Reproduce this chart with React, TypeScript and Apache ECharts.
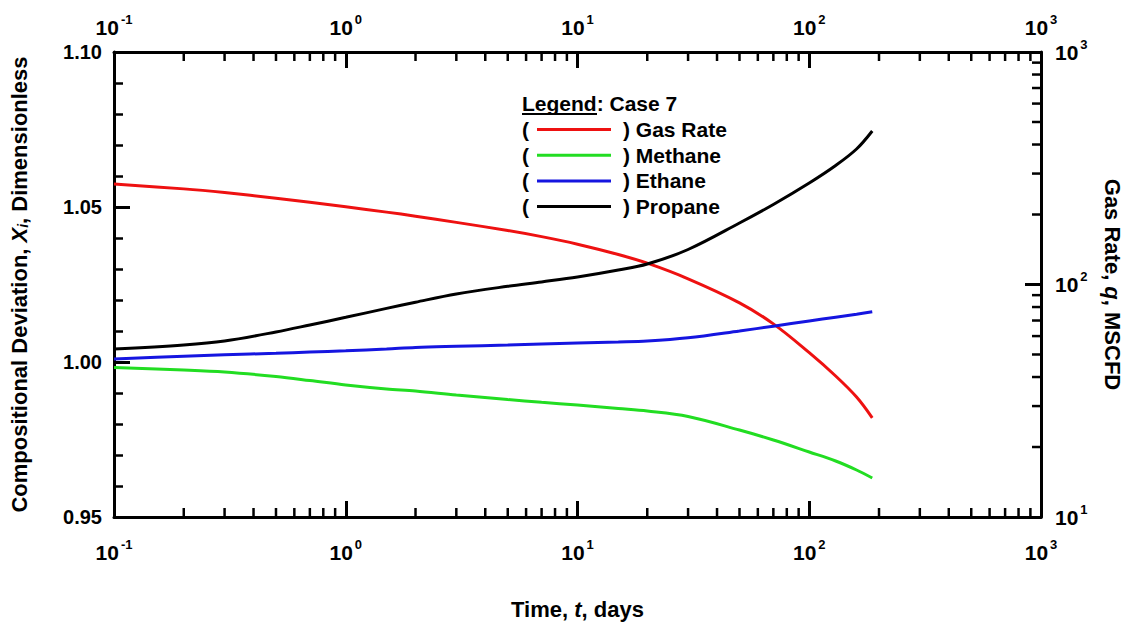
import React, { useEffect, useRef } from "react";
import * as echarts from "echarts";

// ---- data ----
const timeDays = [0.1, 0.2, 0.3, 0.5, 0.7, 1, 1.5, 2, 3, 5, 7, 10, 15, 20, 30, 50, 70, 100, 130, 160, 187];
const gasRate = [270.5, 257.8, 248.5, 235.1, 225.7, 215.9, 204.8, 196.7, 185.0, 170.7, 160.7, 149.1, 134.6, 123.5, 105.8, 83.4, 67.7, 50.9, 40.4, 32.8, 26.7];
const methane = [0.99823, 0.99742, 0.99677, 0.99532, 0.99403, 0.99258, 0.99129, 0.99065, 0.98935, 0.9879, 0.987, 0.98613, 0.985, 0.98419, 0.98242, 0.97806, 0.97484, 0.97097, 0.96806, 0.96516, 0.96258];
const ethane = [1.00097, 1.00184, 1.00235, 1.00281, 1.00323, 1.00361, 1.00419, 1.00468, 1.00506, 1.00548, 1.00581, 1.0061, 1.00645, 1.00677, 1.00781, 1.01, 1.01155, 1.01323, 1.01445, 1.01542, 1.01619];
const propane = [1.00419, 1.00548, 1.00677, 1.00968, 1.01194, 1.01442, 1.01729, 1.01929, 1.02194, 1.02442, 1.02584, 1.02742, 1.02968, 1.03161, 1.03629, 1.04484, 1.05081, 1.05774, 1.06339, 1.06871, 1.07452];

const seriesNames = ["Gas Rate", "Methane", "Ethane", "Propane"];
const seriesColors = ["#ee1111", "#22dd22", "#1515e0", "#000000"];

const legendTitle = "Legend";
const legendCase = ": Case 7";

// axis ranges / minor tick positions
const xMin = 0.1;
const xMax = 1000;
const yMin = 0.95;
const yMax = 1.1;
const qMin = 10;
const qMax = 1000;
const decadesX = [0.1, 1, 10, 100];
const decadesQ = [10, 100];
const minorMultipliers = [2, 3, 4, 5, 6, 7, 8, 9];

const FONT = '"Liberation Sans", Arial, Helvetica, sans-serif';

export default function App() {
  const ref = useRef<HTMLDivElement>(null);

  useEffect(() => {
    if (!ref.current) return;
    const chart = echarts.init(ref.current, undefined, { renderer: "svg" });

    const xMinor: number[] = [];
    decadesX.forEach((d) => minorMultipliers.forEach((m) => xMinor.push(d * m)));
    const qMinor: number[] = [];
    decadesQ.forEach((d) => minorMultipliers.forEach((m) => qMinor.push(d * m)));

    const powLabel = (v: number) => {
      const e = Math.round(Math.log10(v));
      return `{b|10}{s|${e}}`;
    };
    const powRich = {
      b: { fontSize: 21, fontWeight: "bold", fontFamily: FONT, color: "#000", verticalAlign: "middle", lineHeight: 29 },
      s: { fontSize: 13, fontWeight: "bold", fontFamily: FONT, color: "#000", verticalAlign: "top", lineHeight: 13, padding: [0, 0, 0, 2] },
    };
    const nameRich = {
      a: { fontSize: 22, fontWeight: "bold", fontFamily: FONT, color: "#000" },
      i: { fontSize: 22, fontWeight: "bold", fontStyle: "italic", fontFamily: FONT, color: "#000" },
      sub: { fontSize: 14, fontWeight: "bold", fontStyle: "italic", fontFamily: FONT, color: "#000", verticalAlign: "bottom", padding: [8, 0, 0, 0] },
    };

    const axisLine = { show: true, lineStyle: { color: "#000", width: 3 } };
    const majorTick = { show: true, inside: true, length: 16, lineStyle: { color: "#000", width: 3 } };

    const lineData = [gasRate, methane, ethane, propane];

    const rows: any[] = [];
    const legendX = 522;
    const rowY0 = 129.5;
    const rowStep = 25.7;
    rows.push({
      type: "text",
      x: legendX,
      y: 103,
      style: { text: legendTitle + legendCase, fontSize: 21, fontWeight: "bold", fontFamily: FONT, fill: "#000", verticalAlign: "middle", align: "left" },
    });
    rows.push({
      type: "line",
      shape: { x1: legendX, y1: 114, x2: legendX + 75, y2: 114 },
      style: { stroke: "#000", lineWidth: 2 },
    });
    seriesNames.forEach((n, i) => {
      const y = rowY0 + i * rowStep;
      rows.push({
        type: "text",
        x: legendX,
        y,
        style: { text: "(", fontSize: 21, fontWeight: "bold", fontFamily: FONT, fill: "#000", verticalAlign: "middle", align: "left" },
      });
      rows.push({
        type: "line",
        shape: { x1: 537, y1: y, x2: 611, y2: y },
        style: { stroke: seriesColors[i], lineWidth: 3 },
      });
      rows.push({
        type: "text",
        x: 623,
        y,
        style: { text: ") " + n, fontSize: 21, fontWeight: "bold", fontFamily: FONT, fill: "#000", verticalAlign: "middle", align: "left" },
      });
    });

    const option: any = {
      animation: false,
      backgroundColor: "#fff",
      grid: { left: 114, right: 94, top: 52, bottom: 111, containLabel: false },
      xAxis: [
        {
          type: "log",
          logBase: 10,
          min: xMin,
          max: xMax,
          position: "bottom",
          axisLine,
          axisTick: majorTick,
          axisLabel: { formatter: powLabel, rich: powRich, margin: 21 },
          splitLine: { show: false },
          name: "{a|Time, }{i|t}{a|, days}",
          nameLocation: "middle",
          nameGap: 81,
          nameTextStyle: { rich: nameRich },
        },
        {
          type: "log",
          logBase: 10,
          min: xMin,
          max: xMax,
          position: "top",
          axisLine,
          axisTick: majorTick,
          axisLabel: { formatter: powLabel, rich: powRich, margin: 10 },
          splitLine: { show: false },
        },
      ],
      yAxis: [
        {
          type: "value",
          min: yMin,
          max: yMax,
          interval: 0.05,
          position: "left",
          axisLine,
          axisTick: majorTick,
          minorTick: { show: true, splitNumber: 5, length: 9, lineStyle: { color: "#000", width: 2.5 } },
          axisLabel: {
            formatter: (v: number) => v.toFixed(2),
            fontSize: 20,
            fontWeight: "bold",
            fontFamily: FONT,
            color: "#000",
            margin: 12,
          },
          splitLine: { show: false },
          name: "{a|Compositional Deviation, }{i|X}{sub|i}{a|, Dimensionless}",
          nameLocation: "middle",
          nameRotate: 90,
          nameGap: 84,
          nameTextStyle: { rich: nameRich },
        },
        {
          type: "log",
          logBase: 10,
          min: qMin,
          max: qMax,
          position: "right",
          axisLine,
          axisTick: majorTick,
          axisLabel: { formatter: powLabel, rich: powRich, margin: 14 },
          splitLine: { show: false },
          name: "{a|Gas Rate, }{i|q}{a|, MSCFD}",
          nameLocation: "middle",
          nameRotate: -90,
          nameGap: 60,
          nameTextStyle: { rich: nameRich },
        },
      ],
      series: [
        ...seriesNames.map((n, i) => ({
          name: n,
          type: "line",
          xAxisIndex: 0,
          yAxisIndex: i === 0 ? 1 : 0,
          data: timeDays.map((t, k) => [t, lineData[i][k]]),
          showSymbol: false,
          symbol: "none",
          smooth: 0.35,
          lineStyle: { color: seriesColors[i], width: 3 },
          itemStyle: { color: seriesColors[i] },
          z: 3,
        })),
        {
          name: "xMinorTicks",
          type: "custom",
          xAxisIndex: 0,
          yAxisIndex: 0,
          silent: true,
          clip: false,
          z: 10,
          data: xMinor.map((v) => [v, 1]),
          renderItem: (_p: any, api: any) => {
            const v = api.value(0);
            const b = api.coord([v, yMin]);
            const t = api.coord([v, yMax]);
            return {
              type: "group",
              children: [
                { type: "line", shape: { x1: b[0], y1: b[1], x2: b[0], y2: b[1] - 9 }, style: { stroke: "#000", lineWidth: 2.5 } },
                { type: "line", shape: { x1: t[0], y1: t[1], x2: t[0], y2: t[1] + 9 }, style: { stroke: "#000", lineWidth: 2.5 } },
              ],
            };
          },
        },
        {
          name: "qMinorTicks",
          type: "custom",
          xAxisIndex: 0,
          yAxisIndex: 1,
          silent: true,
          clip: false,
          z: 10,
          data: qMinor.map((q) => [1, q]),
          renderItem: (_p: any, api: any) => {
            const q = api.value(1);
            const p = api.coord([xMax, q]);
            return {
              type: "line",
              shape: { x1: p[0], y1: p[1], x2: p[0] - 9, y2: p[1] },
              style: { stroke: "#000", lineWidth: 2.5 },
            };
          },
        },
      ],
      graphic: { elements: rows },
    };

    chart.setOption(option);
    return () => chart.dispose();
  }, []);

  return (
    <div
      ref={ref}
      style={{ position: "absolute", left: 0, top: 0, width: 1135, height: 628, background: "#fff" }}
    />
  );
}
